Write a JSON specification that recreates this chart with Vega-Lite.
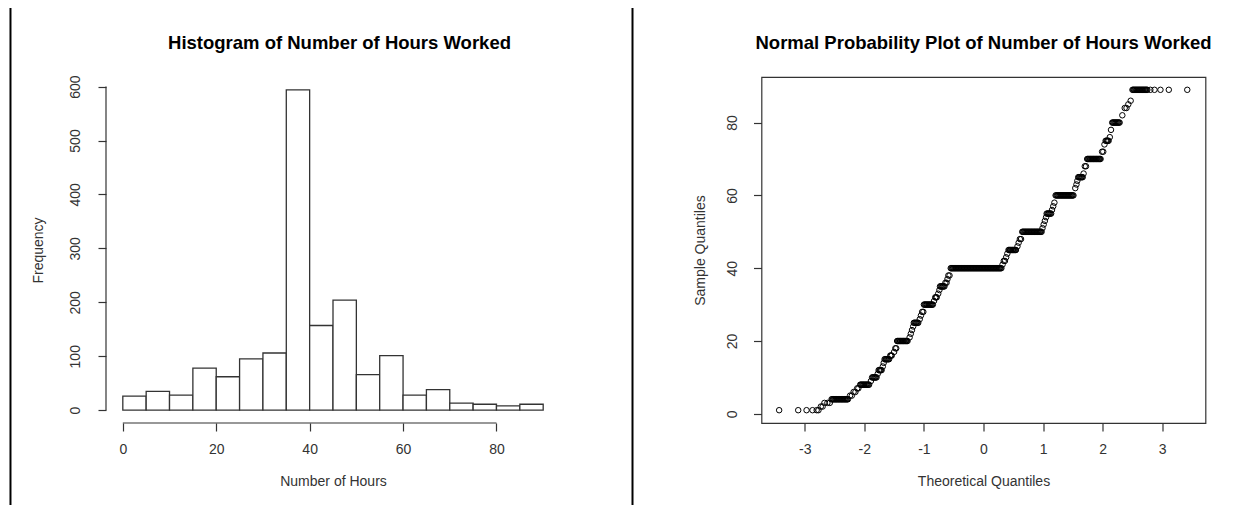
{
  "$schema": "https://vega.github.io/schema/vega-lite/v6.json",
  "padding": {"left": 9, "top": 6, "right": 0, "bottom": 0},
  "background": "white",
  "spacing": 70.5,
  "config": {
    "font": "Liberation Sans",
    "axis": {"grid": false, "domain": false, "tickColor": "#333", "tickSize": 8, "tickWidth": 1.2, "labelColor": "#333", "labelFontSize": 14, "labelFont": "Liberation Sans", "titleColor": "#333", "titleFontSize": 14, "titleFontWeight": "normal", "titleFont": "Liberation Sans", "labelFlush": false, "labelOverlap": false},
    "title": {"font": "Liberation Sans", "fontSize": 18.5, "fontWeight": "bold", "color": "#000", "frame": "group", "baseline": "alphabetic"}
  },
  "datasets": {
    "bins": [
      {"lo": 0, "hi": 5, "count": 26}, {"lo": 5, "hi": 10, "count": 35}, {"lo": 10, "hi": 15, "count": 28},
      {"lo": 15, "hi": 20, "count": 78}, {"lo": 20, "hi": 25, "count": 62}, {"lo": 25, "hi": 30, "count": 95},
      {"lo": 30, "hi": 35, "count": 106}, {"lo": 35, "hi": 40, "count": 594}, {"lo": 40, "hi": 45, "count": 157},
      {"lo": 45, "hi": 50, "count": 204}, {"lo": 50, "hi": 55, "count": 66}, {"lo": 55, "hi": 60, "count": 101},
      {"lo": 60, "hi": 65, "count": 28}, {"lo": 65, "hi": 70, "count": 38}, {"lo": 70, "hi": 75, "count": 13},
      {"lo": 75, "hi": 80, "count": 11}, {"lo": 80, "hi": 85, "count": 8}, {"lo": 85, "hi": 90, "count": 11}
    ],
    "qq": [
      {"t": -3.43, "s": 1}, {"t": -3.11, "s": 1}, {"t": -2.97, "s": 1}, {"t": -2.87, "s": 1}, {"t": -2.8, "s": 1}, {"t": -2.77, "s": 1},
      {"t": -2.73, "s": 2}, {"t": -2.7, "s": 2},
      {"t": -2.67, "s": 3}, {"t": -2.62, "s": 3}, {"t": -2.58, "s": 3},
      {"t": -2.55, "s": 4}, {"t": -2.525, "s": 4}, {"t": -2.5, "s": 4}, {"t": -2.475, "s": 4}, {"t": -2.45, "s": 4}, {"t": -2.425, "s": 4},
      {"t": -2.4, "s": 4}, {"t": -2.375, "s": 4}, {"t": -2.35, "s": 4}, {"t": -2.325, "s": 4}, {"t": -2.3, "s": 4}, {"t": -2.275, "s": 4},
      {"t": -2.5375, "s": 4}, {"t": -2.5125, "s": 4}, {"t": -2.4875, "s": 4}, {"t": -2.4625, "s": 4}, {"t": -2.4375, "s": 4}, {"t": -2.4125, "s": 4},
      {"t": -2.3875, "s": 4}, {"t": -2.3625, "s": 4}, {"t": -2.3375, "s": 4}, {"t": -2.3125, "s": 4}, {"t": -2.2875, "s": 4},
      {"t": -2.24, "s": 5}, {"t": -2.21, "s": 5}, {"t": -2.18, "s": 6}, {"t": -2.15, "s": 6}, {"t": -2.12, "s": 7}, {"t": -2.1, "s": 7},
      {"t": -2.07, "s": 8}, {"t": -2.045, "s": 8}, {"t": -2.02, "s": 8}, {"t": -1.995, "s": 8}, {"t": -1.97, "s": 8}, {"t": -1.945, "s": 8}, {"t": -1.92, "s": 8},
      {"t": -2.0575, "s": 8}, {"t": -2.0325, "s": 8}, {"t": -2.0075, "s": 8}, {"t": -1.9825, "s": 8}, {"t": -1.9575, "s": 8}, {"t": -1.9325, "s": 8},
      {"t": -1.89, "s": 9},
      {"t": -1.87, "s": 10}, {"t": -1.845, "s": 10}, {"t": -1.82, "s": 10}, {"t": -1.795, "s": 10},
      {"t": -1.8575, "s": 10}, {"t": -1.8325, "s": 10}, {"t": -1.8075, "s": 10},
      {"t": -1.775, "s": 11},
      {"t": -1.76, "s": 12}, {"t": -1.735, "s": 12}, {"t": -1.71, "s": 12}, {"t": -1.7475, "s": 12}, {"t": -1.7225, "s": 12},
      {"t": -1.69, "s": 13}, {"t": -1.675, "s": 14},
      {"t": -1.66, "s": 15}, {"t": -1.635, "s": 15}, {"t": -1.61, "s": 15}, {"t": -1.585, "s": 15},
      {"t": -1.6475, "s": 15}, {"t": -1.6225, "s": 15}, {"t": -1.5975, "s": 15},
      {"t": -1.565, "s": 16}, {"t": -1.54, "s": 16}, {"t": -1.5525, "s": 16}, {"t": -1.5, "s": 17}, {"t": -1.48, "s": 18}, {"t": -1.465, "s": 18},
      {"t": -1.45, "s": 20}, {"t": -1.425, "s": 20}, {"t": -1.4, "s": 20}, {"t": -1.375, "s": 20}, {"t": -1.35, "s": 20}, {"t": -1.325, "s": 20}, {"t": -1.3, "s": 20}, {"t": -1.275, "s": 20},
      {"t": -1.4375, "s": 20}, {"t": -1.4125, "s": 20}, {"t": -1.3875, "s": 20}, {"t": -1.3625, "s": 20}, {"t": -1.3375, "s": 20}, {"t": -1.3125, "s": 20}, {"t": -1.2875, "s": 20},
      {"t": -1.24, "s": 21}, {"t": -1.22, "s": 22}, {"t": -1.2, "s": 23}, {"t": -1.18, "s": 24},
      {"t": -1.17, "s": 25}, {"t": -1.145, "s": 25}, {"t": -1.12, "s": 25}, {"t": -1.095, "s": 25},
      {"t": -1.1575, "s": 25}, {"t": -1.1325, "s": 25}, {"t": -1.1075, "s": 25},
      {"t": -1.07, "s": 26}, {"t": -1.05, "s": 27}, {"t": -1.03, "s": 28}, {"t": -1.01, "s": 28},
      {"t": -1.0, "s": 30}, {"t": -0.975, "s": 30}, {"t": -0.95, "s": 30}, {"t": -0.925, "s": 30}, {"t": -0.9, "s": 30}, {"t": -0.875, "s": 30}, {"t": -0.85, "s": 30},
      {"t": -0.9875, "s": 30}, {"t": -0.9625, "s": 30}, {"t": -0.9375, "s": 30}, {"t": -0.9125, "s": 30}, {"t": -0.8875, "s": 30}, {"t": -0.8625, "s": 30},
      {"t": -0.83, "s": 31}, {"t": -0.81, "s": 32}, {"t": -0.785, "s": 32}, {"t": -0.7975, "s": 32}, {"t": -0.76, "s": 33}, {"t": -0.74, "s": 34},
      {"t": -0.73, "s": 35}, {"t": -0.705, "s": 35}, {"t": -0.68, "s": 35}, {"t": -0.655, "s": 35},
      {"t": -0.7175, "s": 35}, {"t": -0.6925, "s": 35}, {"t": -0.6675, "s": 35},
      {"t": -0.64, "s": 36}, {"t": -0.62, "s": 36}, {"t": -0.605, "s": 37}, {"t": -0.59, "s": 38}, {"t": -0.57, "s": 38},
      {"t": -0.55, "s": 40}, {"t": -0.525, "s": 40}, {"t": -0.5, "s": 40}, {"t": -0.475, "s": 40}, {"t": -0.45, "s": 40}, {"t": -0.425, "s": 40},
      {"t": -0.4, "s": 40}, {"t": -0.375, "s": 40}, {"t": -0.35, "s": 40}, {"t": -0.325, "s": 40}, {"t": -0.3, "s": 40}, {"t": -0.275, "s": 40},
      {"t": -0.25, "s": 40}, {"t": -0.225, "s": 40}, {"t": -0.2, "s": 40}, {"t": -0.175, "s": 40}, {"t": -0.15, "s": 40}, {"t": -0.125, "s": 40},
      {"t": -0.1, "s": 40}, {"t": -0.075, "s": 40}, {"t": -0.05, "s": 40}, {"t": -0.025, "s": 40}, {"t": 0, "s": 40}, {"t": 0.025, "s": 40},
      {"t": 0.05, "s": 40}, {"t": 0.075, "s": 40}, {"t": 0.1, "s": 40}, {"t": 0.125, "s": 40}, {"t": 0.15, "s": 40}, {"t": 0.175, "s": 40},
      {"t": 0.2, "s": 40}, {"t": 0.225, "s": 40}, {"t": 0.25, "s": 40}, {"t": 0.275, "s": 40}, {"t": 0.3, "s": 40},
      {"t": -0.5375, "s": 40}, {"t": -0.5125, "s": 40}, {"t": -0.4875, "s": 40}, {"t": -0.4625, "s": 40}, {"t": -0.4375, "s": 40}, {"t": -0.4125, "s": 40},
      {"t": -0.3875, "s": 40}, {"t": -0.3625, "s": 40}, {"t": -0.3375, "s": 40}, {"t": -0.3125, "s": 40}, {"t": -0.2875, "s": 40}, {"t": -0.2625, "s": 40},
      {"t": -0.2375, "s": 40}, {"t": -0.2125, "s": 40}, {"t": -0.1875, "s": 40}, {"t": -0.1625, "s": 40}, {"t": -0.1375, "s": 40}, {"t": -0.1125, "s": 40},
      {"t": -0.0875, "s": 40}, {"t": -0.0625, "s": 40}, {"t": -0.0375, "s": 40}, {"t": -0.0125, "s": 40}, {"t": 0.0125, "s": 40}, {"t": 0.0375, "s": 40},
      {"t": 0.0625, "s": 40}, {"t": 0.0875, "s": 40}, {"t": 0.1125, "s": 40}, {"t": 0.1375, "s": 40}, {"t": 0.1625, "s": 40}, {"t": 0.1875, "s": 40},
      {"t": 0.2125, "s": 40}, {"t": 0.2375, "s": 40}, {"t": 0.2625, "s": 40}, {"t": 0.2875, "s": 40},
      {"t": 0.32, "s": 41}, {"t": 0.34, "s": 42}, {"t": 0.36, "s": 42}, {"t": 0.38, "s": 43}, {"t": 0.4, "s": 44},
      {"t": 0.42, "s": 45}, {"t": 0.445, "s": 45}, {"t": 0.47, "s": 45}, {"t": 0.495, "s": 45}, {"t": 0.52, "s": 45}, {"t": 0.545, "s": 45},
      {"t": 0.4325, "s": 45}, {"t": 0.4575, "s": 45}, {"t": 0.4825, "s": 45}, {"t": 0.5075, "s": 45}, {"t": 0.5325, "s": 45},
      {"t": 0.57, "s": 46}, {"t": 0.59, "s": 47}, {"t": 0.61, "s": 48}, {"t": 0.63, "s": 48},
      {"t": 0.65, "s": 50}, {"t": 0.675, "s": 50}, {"t": 0.7, "s": 50}, {"t": 0.725, "s": 50}, {"t": 0.75, "s": 50}, {"t": 0.775, "s": 50}, {"t": 0.8, "s": 50},
      {"t": 0.825, "s": 50}, {"t": 0.85, "s": 50}, {"t": 0.875, "s": 50}, {"t": 0.9, "s": 50}, {"t": 0.925, "s": 50}, {"t": 0.95, "s": 50}, {"t": 0.975, "s": 50},
      {"t": 0.6625, "s": 50}, {"t": 0.6875, "s": 50}, {"t": 0.7125, "s": 50}, {"t": 0.7375, "s": 50}, {"t": 0.7625, "s": 50}, {"t": 0.7875, "s": 50}, {"t": 0.8125, "s": 50},
      {"t": 0.8375, "s": 50}, {"t": 0.8625, "s": 50}, {"t": 0.8875, "s": 50}, {"t": 0.9125, "s": 50}, {"t": 0.9375, "s": 50}, {"t": 0.9625, "s": 50},
      {"t": 0.99, "s": 51}, {"t": 1.01, "s": 52}, {"t": 1.03, "s": 53}, {"t": 1.05, "s": 54},
      {"t": 1.06, "s": 55}, {"t": 1.085, "s": 55}, {"t": 1.11, "s": 55}, {"t": 1.135, "s": 55}, {"t": 1.0725, "s": 55}, {"t": 1.0975, "s": 55}, {"t": 1.1225, "s": 55},
      {"t": 1.15, "s": 56}, {"t": 1.17, "s": 57}, {"t": 1.19, "s": 58},
      {"t": 1.21, "s": 60}, {"t": 1.235, "s": 60}, {"t": 1.26, "s": 60}, {"t": 1.285, "s": 60}, {"t": 1.31, "s": 60}, {"t": 1.335, "s": 60}, {"t": 1.36, "s": 60},
      {"t": 1.385, "s": 60}, {"t": 1.41, "s": 60}, {"t": 1.435, "s": 60}, {"t": 1.46, "s": 60}, {"t": 1.485, "s": 60}, {"t": 1.51, "s": 60},
      {"t": 1.2225, "s": 60}, {"t": 1.2475, "s": 60}, {"t": 1.2725, "s": 60}, {"t": 1.2975, "s": 60}, {"t": 1.3225, "s": 60}, {"t": 1.3475, "s": 60},
      {"t": 1.3725, "s": 60}, {"t": 1.3975, "s": 60}, {"t": 1.4225, "s": 60}, {"t": 1.4475, "s": 60}, {"t": 1.4725, "s": 60}, {"t": 1.4975, "s": 60},
      {"t": 1.54, "s": 62}, {"t": 1.56, "s": 63}, {"t": 1.575, "s": 64},
      {"t": 1.59, "s": 65}, {"t": 1.615, "s": 65}, {"t": 1.64, "s": 65}, {"t": 1.665, "s": 65}, {"t": 1.6025, "s": 65}, {"t": 1.6275, "s": 65}, {"t": 1.6525, "s": 65},
      {"t": 1.68, "s": 66}, {"t": 1.7, "s": 68}, {"t": 1.72, "s": 68},
      {"t": 1.74, "s": 70}, {"t": 1.765, "s": 70}, {"t": 1.79, "s": 70}, {"t": 1.815, "s": 70}, {"t": 1.84, "s": 70}, {"t": 1.865, "s": 70}, {"t": 1.89, "s": 70},
      {"t": 1.915, "s": 70}, {"t": 1.94, "s": 70}, {"t": 1.965, "s": 70},
      {"t": 1.7525, "s": 70}, {"t": 1.7775, "s": 70}, {"t": 1.8025, "s": 70}, {"t": 1.8275, "s": 70}, {"t": 1.8525, "s": 70}, {"t": 1.8775, "s": 70},
      {"t": 1.9025, "s": 70}, {"t": 1.9275, "s": 70}, {"t": 1.9525, "s": 70},
      {"t": 1.99, "s": 72}, {"t": 2.01, "s": 72}, {"t": 2.03, "s": 74},
      {"t": 2.05, "s": 75}, {"t": 2.075, "s": 75}, {"t": 2.1, "s": 75}, {"t": 2.0625, "s": 75}, {"t": 2.0875, "s": 75},
      {"t": 2.12, "s": 76}, {"t": 2.14, "s": 78},
      {"t": 2.16, "s": 80}, {"t": 2.185, "s": 80}, {"t": 2.21, "s": 80}, {"t": 2.235, "s": 80}, {"t": 2.26, "s": 80}, {"t": 2.285, "s": 80},
      {"t": 2.1725, "s": 80}, {"t": 2.1975, "s": 80}, {"t": 2.2225, "s": 80}, {"t": 2.2475, "s": 80}, {"t": 2.2725, "s": 80},
      {"t": 2.33, "s": 82}, {"t": 2.37, "s": 84}, {"t": 2.4, "s": 84}, {"t": 2.43, "s": 85}, {"t": 2.47, "s": 86},
      {"t": 2.5, "s": 89}, {"t": 2.525, "s": 89}, {"t": 2.55, "s": 89}, {"t": 2.575, "s": 89}, {"t": 2.6, "s": 89}, {"t": 2.625, "s": 89},
      {"t": 2.65, "s": 89}, {"t": 2.675, "s": 89}, {"t": 2.7, "s": 89}, {"t": 2.725, "s": 89}, {"t": 2.75, "s": 89},
      {"t": 2.5125, "s": 89}, {"t": 2.5375, "s": 89}, {"t": 2.5625, "s": 89}, {"t": 2.5875, "s": 89}, {"t": 2.6125, "s": 89},
      {"t": 2.6375, "s": 89}, {"t": 2.6625, "s": 89}, {"t": 2.6875, "s": 89}, {"t": 2.7125, "s": 89}, {"t": 2.7375, "s": 89},
      {"t": 2.8, "s": 89}, {"t": 2.87, "s": 89}, {"t": 2.97, "s": 89}, {"t": 3.11, "s": 89}, {"t": 3.42, "s": 89}
    ]
  },
  "hconcat": [
    {
      "width": 454,
      "height": 346,
      "view": {"stroke": null},
      "title": {"text": "Histogram of Number of Hours Worked", "dx": 6.5, "offset": -45.5, "frame": "group"},
      "layer": [
        {
          "data": {"name": "bins"},
          "mark": {"type": "rect", "fill": "white", "stroke": "#333", "strokeWidth": 1.3},
          "encoding": {
            "x": {"field": "lo", "type": "quantitative", "scale": {"domain": [-3.6, 93.6], "nice": false, "zero": false},
                  "axis": {"values": [0, 20, 40, 60, 80], "title": "Number of Hours", "labelBaseline": "middle", "labelPadding": 18, "titlePadding": 18, "labelExpr": "toString(datum.value)"}},
            "x2": {"field": "hi"},
            "y": {"field": "count", "type": "quantitative", "scale": {"domain": [-23.76, 617.76], "nice": false, "zero": false},
                  "axis": {"values": [0, 100, 200, 300, 400, 500, 600], "title": "Frequency", "labelAngle": -90, "labelAlign": "center", "labelBaseline": "middle", "labelPadding": 23, "titlePadding": 23, "labelExpr": "toString(datum.value)"}},
            "y2": {"datum": 0}
          }
        },
        {
          "data": {"values": [{}]},
          "mark": {"type": "rule", "stroke": "#333", "strokeWidth": 1.2},
          "encoding": {"x": {"datum": 0}, "x2": {"datum": 80}, "y": {"datum": -23.76}}
        },
        {
          "data": {"values": [{}]},
          "mark": {"type": "rule", "stroke": "#333", "strokeWidth": 1.2},
          "encoding": {"x": {"datum": -3.6}, "y": {"datum": 0}, "y2": {"datum": 600}}
        },
        {
          "data": {"values": [{}]},
          "mark": {"type": "rule", "stroke": "black", "strokeWidth": 2, "clip": false},
          "encoding": {"x": {"datum": -24.05}, "y": {"datum": 745.69}, "y2": {"datum": -175.8}}
        }
      ]
    },
    {
      "width": 444,
      "height": 346,
      "view": {"stroke": "#333", "strokeWidth": 1.2},
      "title": {"text": "Normal Probability Plot of Number of Hours Worked", "offset": -45.5, "frame": "group"},
      "layer": [
        {
          "data": {"name": "qq"},
          "mark": {"type": "point", "shape": "circle", "filled": false, "stroke": "black", "strokeWidth": 1, "size": 30, "opacity": 1},
          "encoding": {
            "x": {"field": "t", "type": "quantitative", "scale": {"domain": [-3.726, 3.726], "nice": false, "zero": false},
                  "axis": {"values": [-3, -2, -1, 0, 1, 2, 3], "title": "Theoretical Quantiles", "labelBaseline": "middle", "labelPadding": 18, "titlePadding": 18, "labelExpr": "toString(datum.value)"}},
            "y": {"field": "s", "type": "quantitative", "scale": {"domain": [-2.52, 92.52], "nice": false, "zero": false},
                  "axis": {"values": [0, 20, 40, 60, 80], "title": "Sample Quantiles", "labelAngle": -90, "labelAlign": "center", "labelBaseline": "middle", "labelPadding": 21, "titlePadding": 18, "labelExpr": "toString(datum.value)"}}
          }
        },
        {
          "data": {"values": [{}]},
          "mark": {"type": "rule", "stroke": "black", "strokeWidth": 2, "clip": false},
          "encoding": {"x": {"datum": -5.891}, "y": {"datum": 111.47}, "y2": {"datum": -25.04}}
        }
      ]
    }
  ]
}
